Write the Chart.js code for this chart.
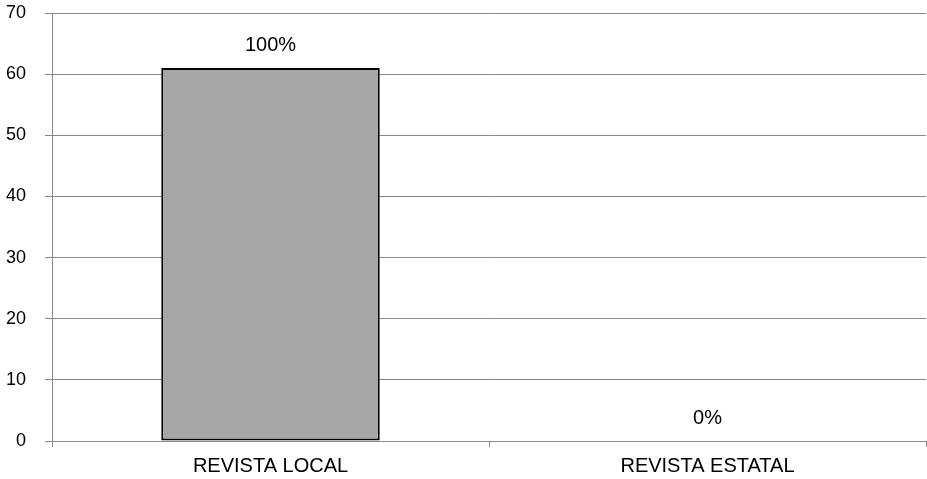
<!DOCTYPE html>
<html>
<head>
<meta charset="utf-8">
<script src="https://cdn.jsdelivr.net/npm/chart.js@4/dist/chart.umd.min.js"></script>
<style>
  html, body { margin: 0; padding: 0; background: #fff; }
  #wrap { width: 927px; height: 479px; position: relative; }
</style>
</head>
<body>
<div id="wrap"><canvas id="c"></canvas></div>
<script>
const categories = ['REVISTA LOCAL', 'REVISTA ESTATAL'];
const values = [61, 0];
const valueLabels = ['100%', '0%'];
const yTicks = [0, 10, 20, 30, 40, 50, 60, 70];

const dataLabelPlugin = {
  id: 'dataLabels',
  afterDatasetsDraw(chart) {
    const ctx = chart.ctx;
    const meta = chart.getDatasetMeta(0);
    ctx.save();
    ctx.font = '20px "Liberation Sans", Arial, sans-serif';
    ctx.fillStyle = '#000';
    ctx.textAlign = 'center';
    ctx.textBaseline = 'middle';
    meta.data.forEach((bar, i) => {
      ctx.fillText(valueLabels[i], bar.x, bar.y - 23);
    });
    ctx.restore();
  }
};

new Chart(document.getElementById('c'), {
  type: 'bar',
  data: {
    labels: categories,
    datasets: [{
      data: values,
      backgroundColor: '#a6a6a6',
      borderColor: '#000',
      borderWidth: 2,
      borderSkipped: false,
      categoryPercentage: 0.5,
      barPercentage: 1.0
    }]
  },
  options: {
    responsive: true,
    maintainAspectRatio: false,
    animation: false,
    layout: { padding: { top: 13, right: 1, left: 0, bottom: 0 } },
    plugins: { legend: { display: false }, tooltip: { enabled: false } },
    scales: {
      x: {
        offset: true,
        grid: {
          offset: true,
          drawOnChartArea: false,
          drawTicks: true,
          tickLength: 6,
          color: '#888',
          lineWidth: 1
        },
        border: { display: true, color: '#888', width: 1 },
        ticks: {
          color: '#000',
          font: { family: '"Liberation Sans", Arial, sans-serif', size: 20 },
          padding: 7,
          maxRotation: 0
        },
        afterFit(scale) { scale.height = 38; scale.paddingLeft = 0; scale.paddingRight = 0; }
      },
      y: {
        min: 0,
        max: 70,
        afterBuildTicks(scale) { scale.ticks = yTicks.map(v => ({ value: v })); },
        grid: {
          color: '#888',
          lineWidth: 1,
          drawTicks: true,
          tickLength: 7
        },
        border: { display: true, color: '#888', width: 1 },
        ticks: {
          color: '#000',
          font: { family: '"Liberation Sans", Arial, sans-serif', size: 18 },
          padding: 19
        },
        afterFit(scale) { scale.width = 52; scale.paddingTop = 0; scale.paddingBottom = 0; }
      }
    }
  },
  plugins: [dataLabelPlugin]
});
</script>
</body>
</html>
